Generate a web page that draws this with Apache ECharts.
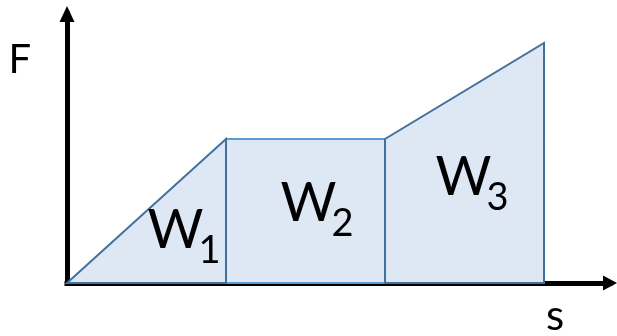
<!DOCTYPE html>
<html><head><meta charset="utf-8">
<script src="https://cdn.jsdelivr.net/npm/echarts@6/dist/echarts.min.js"></script>
<style>html,body{margin:0;padding:0;background:#fff}#c{width:617px;height:336px}</style>
</head><body><div id="c"></div>
<script>
// segment boundaries along s
const sStart = [1, 0, 2];
const sEnd = [2, 1, 3];
// force at start / end of each segment
const fStart = [1.5, 0, 1.5];
const fEnd = [1.5, 1.5, 2.5];
const subscripts = ['2', '1', '3'];
const axisNames = ['s', 'F'];

// label anchors (W centre, baseline) in data units
const labelAnchor = [[1.519, 0.604], [0.682, 0.323], [2.494, 0.875]];
const strokeColors = ['#5b9bd5', '#41719c', '#41719c'];
const FONT = 'Lato, "Open Sans", sans-serif';

const chart = echarts.init(document.getElementById('c'), null, {renderer: 'canvas'});
const data = sStart.map((s, i) => [s, sEnd[i], fStart[i], fEnd[i], i]);

chart.setOption({
  animation: false,
  backgroundColor: '#fff',
  grid: {left: 67, right: 7, top: 14, bottom: 53, outerBoundsMode: 'none'},
  xAxis: {
    type: 'value', min: 0, max: 3.415,
    axisLine: {show: true, onZero: false, symbol: ['none', 'triangle'], symbolSize: [15, 14],
      lineStyle: {color: '#000', width: 5, cap: 'square'}},
    axisTick: {show: false}, axisLabel: {show: false}, splitLine: {show: false}
  },
  yAxis: {
    type: 'value', min: 0, max: 2.802,
    axisLine: {show: true, onZero: false, symbol: ['none', 'triangle'], symbolSize: [15, 16],
      lineStyle: {color: '#000', width: 5, cap: 'square'}},
    axisTick: {show: false}, axisLabel: {show: false}, splitLine: {show: false}
  },
  graphic: [
    {type: 'text', x: 8.5, y: 60.5, z: 10, style: {text: axisNames[1], font: '40px ' + FONT, fill: '#000', verticalAlign: 'middle', align: 'left'}},
    {type: 'text', x: 546, y: 316.5, z: 10, style: {text: axisNames[0], font: '42px ' + FONT, fill: '#000', verticalAlign: 'middle', align: 'left'}}
  ],
  series: [{
    type: 'custom',
    data: data,
    z: 1,
    renderItem: function (params, api) {
      const i = api.value(4);
      const x0 = api.value(0), x1 = api.value(1), f0 = api.value(2), f1 = api.value(3);
      const p0 = api.coord([x0, 0]), p1 = api.coord([x0, f0]), p2 = api.coord([x1, f1]), p3 = api.coord([x1, 0]);
      const a = api.coord(labelAnchor[i]);
      return {
        type: 'group',
        children: [
          {type: 'polygon', shape: {points: [p0, p1, p2, p3]},
            style: {fill: '#dee8f5', stroke: strokeColors[i], lineWidth: 2, lineJoin: 'miter'}},
          {type: 'text', x: a[0], y: a[1] - 21, style: {text: 'W', font: '54px ' + FONT, fill: '#000', align: 'center', verticalAlign: 'middle'}},
          {type: 'text', x: a[0] + 34, y: a[1] + 13 - 14.7, style: {text: subscripts[i], font: '38px ' + FONT, fill: '#000', align: 'center', verticalAlign: 'middle'}}
        ]
      };
    }
  }]
});
</script>
</body></html>
